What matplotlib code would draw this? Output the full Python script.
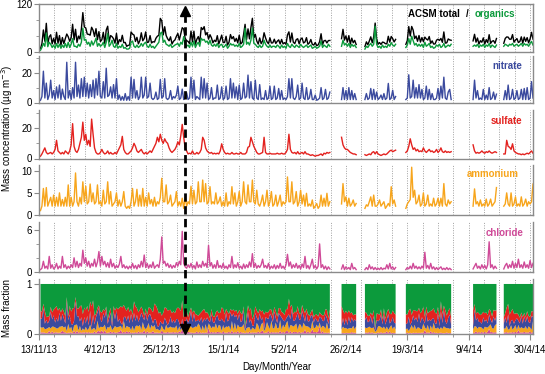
import numpy as np
import matplotlib
matplotlib.use("Agg")
import matplotlib.pyplot as plt
from matplotlib.lines import Line2D
from matplotlib.transforms import blended_transform_factory

plt.rcParams['font.family'] = ['Liberation Sans', 'DejaVu Sans']
nan = np.nan

# ACSM record, 12 h values from 13/11/13 (first value at +0.5 d), gaps = nan
start_date = np.datetime64('2013-11-13')
step_days = 0.5

tick_dates = ['2013-11-13', '2013-12-04', '2013-12-25', '2014-01-15', '2014-02-05',
              '2014-02-26', '2014-03-19', '2014-04-09', '2014-04-30']
tick_labels = ['13/11/13', '4/12/13', '25/12/13', '15/1/14', '5/2/14',
               '26/2/14', '19/3/14', '9/4/14', '30/4/14']
event_time = np.datetime64('2014-01-01T20:00')

# each row = 5 days
organics = [
    5, 12, 22, 15, 48, 14, 25, 20, 12, 18,
    10, 22, 12, 20, 10, 18, 12, 22, 12, 25,
    12, 20, 34, 15, 15, 12, 20, 15, 25, 60,
    30, 32, 20, 25, 15, 28, 18, 25, 35, 15,
    22, 15, 18, 25, 12, 25, 47, 15, 20, 30,
    15, 12, 22, 10, 15, 12, 20, 10, 12, 8,
    8, 10, 25, 28, 15, 12, 18, 12, 15, 22,
    15, 22, 25, 15, 12, 20, 12, 15, 10, 15,
    20, 25, 47, 50, 25, 30, 20, 18, 15, 20,
    12, 15, 18, 20, 22, 15, 25, 20, 39, 20,
    15, 18, 12, 25, 15, 28, 12, 20, 25, 15,
    35, 30, 32, 25, 28, 20, 30, 18, 15, 20,
    15, 22, 12, 18, 20, 12, 15, 20, 10, 15,
    22, 18, 20, 15, 18, 14, 22, 12, 15, 20,
    60, 20, 25, 18, 30, 60, 22, 20, 15, 12,
    18, 12, 15, 30, 20, 15, 12, 18, 12, 15,
    15, 12, 18, 15, 10, 18, 12, 15, 10, 22,
    15, 12, 20, 15, 12, 18, 15, 12, 20, 15,
    12, 15, 18, 12, 15, 18, 10, 12, 15, 10,
    12, 15, 28, 12, 18, 15, 12, 20, 15, nan,
    nan, nan, nan, nan, nan, nan, 15, 30, 18, 22,
    15, 22, 12, 20, 15, 18, 12, nan, nan, nan,
    nan, nan, 8, 15, 12, 18, 22, 15, 20, 65,
    20, 12, 15, 10, 18, 12, 15, 12, 20, 15,
    24, 18, 15, 20, nan, nan, nan, nan, nan, nan,
    12, 18, 34, 20, 40, 29, 18, 22, 15, 20,
    15, 20, 12, 25, 15, 18, 22, 12, 15, 10,
    12, 18, 15, 20, 12, 15, 22, 12, 15, 18,
    15, 20, nan, nan, nan, nan, nan, nan, nan, nan,
    nan, nan, nan, nan, nan, nan, 15, 18, 15, 20,
    12, 18, 15, 20, 12, 18, 15, 22, 12, 18,
    15, 12, 18, nan, nan, nan, nan, 15, 20, 18,
    15, 20, 18, 22, 15, 18, 20, 15, 18, 22,
    15, 22, 18, 20, 15, 22, 27, 18, nan, nan,
]

nitrate = [
    1.5, 4, 21, 3, 13, 2, 5, 15, 3, 8,
    2, 10.5, 3, 11.7, 2, 9, 4, 2, 27, 3,
    8, 2, 10, 3, 27, 4, 11.7, 3, 16, 4,
    17, 4, 13, 3, 12, 4, 15, 3, 16, 5,
    21, 4, 3, 14, 3, 23, 4, 5, 10.5, 3,
    12, 3, 16, 2, 5, 1.5, 4, 1.5, 6, 1.5,
    4, 1.5, 17, 3, 15.5, 3, 8, 2, 4, 17,
    3, 5, 17, 3, 4, 13, 3, 2, 3, 7,
    2, 3, 15.5, 3, 4, 16, 3, 2, 3, 8,
    2, 4, 3, 5, 11, 2, 3, 9, 2, 3,
    6.5, 2, 3, 17, 3, 15, 2, 4, 3, 2,
    17, 3, 16, 3, 13, 2, 3, 10, 2, 3,
    3, 11.7, 2, 3, 10.5, 2, 3, 11, 2, 3,
    16, 3, 13, 3, 10.5, 2, 11.7, 2, 3, 13,
    3, 4, 18.4, 3, 14, 3, 2, 15, 3, 2,
    12, 2, 3, 2, 8, 2, 3, 11, 2, 3,
    11, 2, 3, 9.4, 2, 8, 2, 3, 2, 4,
    16, 3, 16, 3, 2, 4, 11.7, 2, 3, 13,
    3, 2, 10, 2, 3, 8.8, 2, 2, 5, 1.5,
    2, 3, 10, 2, 3, 8.8, 2, 3, 7, nan,
    nan, nan, nan, nan, nan, nan, 2, 10, 2, 8,
    2, 10, 2, 8, 2, 6, 2, nan, nan, nan,
    nan, nan, 2, 6, 2, 3, 9.4, 2, 8.8, 2,
    7, 2, 3, 5, 2, 6, 2, 3, 12.8, 2,
    3, 8.2, 2, 4, nan, nan, nan, nan, nan, nan,
    2, 3, 18.6, 3, 4, 15, 3, 10, 3, 12,
    3, 8.8, 2, 3, 11, 2, 8.8, 2, 6, 2,
    2, 3, 9.4, 2, 11, 3, 17, 3, 2, 7,
    8.8, 2, nan, nan, nan, nan, nan, nan, nan, nan,
    nan, nan, nan, nan, nan, nan, 2, 15, 3, 8,
    2, 3, 2, 8.8, 2, 5, 2, 10, 2, 3,
    7, 2, 5.6, nan, nan, nan, nan, 2, 8, 2,
    11.7, 2, 3, 8.8, 2, 3, 8, 2, 3, 8.8,
    2, 9.4, 2, 10, 2, 3, 14, 3, nan, nan,
]

sulfate = [
    1.5, 3, 5, 7, 4, 3, 3.5, 4, 3, 4,
    6, 12, 5, 4, 3, 4, 3, 5, 4, 3,
    5, 9, 23, 8, 5, 4, 6, 10, 14, 24,
    12, 16, 9, 12, 8, 26, 16, 7, 4, 3,
    3, 4, 6, 4, 3, 3.5, 5, 3, 4, 3,
    3, 4, 3, 5, 7, 9, 14.6, 6, 4, 3,
    3, 4, 5, 7, 10, 8, 5, 4, 5, 6,
    4, 3, 4, 3, 4, 5, 4, 6, 8, 10,
    14, 11, 16, 12, 10, 13, 11, 10, 7, 5,
    4, 5, 6, 8, 11, 9, 15, 22.5, 14, 7,
    5, 3, 3.5, 3, 5, 3, 3, 4, 3, 4,
    6, 14, 12, 7, 5, 4, 3.5, 4, 3, 3.5,
    3, 3.5, 3, 5, 9.7, 6, 4, 3, 3.5, 3,
    3, 4, 3, 3, 3.5, 3, 3, 4, 3, 3,
    3, 4, 7.4, 8, 14, 11, 8, 6, 4, 3,
    3, 3.5, 4, 14, 4, 3, 3, 3.5, 3, 3,
    3, 3, 3.5, 3, 3, 3.5, 3, 3, 4, 6,
    16, 6, 4, 3.5, 4, 3, 4.5, 3, 3.5, 4,
    3, 4.5, 3, 3, 2.5, 2, 2.5, 2, 1.5, 2,
    2, 2.5, 3, 2, 3.5, 3, 4, 3.5, 4, nan,
    nan, nan, nan, nan, nan, nan, 14, 9, 7, 6,
    6, 5, 4, 3.5, 3, 3, 2.5, nan, nan, nan,
    nan, nan, 2.5, 2, 2.5, 3, 2.5, 4, 4.5, 3,
    4.5, 3, 2.5, 2, 2.5, 3, 2.5, 3, 4, 5,
    5.5, 4.5, 5, 5.5, nan, nan, nan, nan, nan, nan,
    4, 5, 8, 13, 9, 6, 7, 5, 6, 4.5,
    5, 4.5, 7, 5, 4, 5, 6, 4.5, 5, 4,
    4.5, 6, 4, 5, 7, 4.5, 4, 5, 4, 4.5,
    4, 4.5, nan, nan, nan, nan, nan, nan, nan, nan,
    nan, nan, nan, nan, nan, nan, 9, 5, 3.5, 4,
    3.5, 4, 5, 4, 3.5, 4.5, 4, 5, 4, 3.5,
    4, 4.5, 4, nan, nan, nan, nan, 3, 3, 12,
    8, 7.4, 6, 9.7, 5, 4, 3.5, 3, 3, 2.5,
    3, 2.5, 3, 3.5, 3, 4, 5, 3.5, nan, nan,
]

ammonium = [
    1, 2, 6, 2, 6.2, 2, 3, 4, 2, 4.5,
    2, 4, 2, 5, 2, 3.5, 2, 4, 2, 6.8,
    2, 4, 2, 3, 9.5, 3, 2, 4, 2.5, 7.5,
    3, 6.5, 2.5, 3, 7, 3, 5, 2.5, 3, 6.8,
    2.5, 3, 2, 5.6, 2.5, 3, 7.5, 2.5, 5.3, 2,
    2.5, 3, 5, 2, 3.4, 2, 3, 5.3, 2, 1.5,
    2, 1.5, 3, 6, 2, 3, 5.8, 2, 4.5, 2,
    6, 2, 4, 2, 5, 2.5, 3.5, 2, 4, 2,
    3, 2.5, 4, 8.3, 3, 3, 6.8, 2.5, 3, 4.5,
    2, 2.5, 3, 5.3, 2, 3, 2, 3.8, 1.5, 4,
    2, 3, 2.5, 6.5, 2.5, 5.6, 2.5, 3, 7.5, 3,
    3, 7.9, 3, 7.1, 2.5, 3, 6.4, 2.5, 3, 2.5,
    5, 2.5, 3, 4.1, 2, 3, 2, 5, 2, 3,
    2.5, 6.4, 2.5, 5, 2, 3, 5.3, 2, 3, 7.5,
    3, 2.5, 6.8, 3, 3, 7.9, 3, 2.5, 5.6, 2.5,
    2, 3, 4.5, 2, 3, 5.6, 2, 3, 5.3, 2,
    2.5, 4.5, 2, 3, 4.5, 2, 3, 2.5, 3, 8.6,
    3, 3, 7.5, 2.5, 3, 5.3, 2, 3, 5.6, 2.5,
    4.5, 2, 4.9, 2, 2.5, 2, 3.4, 1.5, 2, 2.6,
    1.5, 2, 4.5, 2, 3.8, 2, 4.9, 2, 3, nan,
    nan, nan, nan, nan, nan, nan, 2.5, 7.1, 3, 4.1,
    2, 3.8, 2, 2.5, 3.4, 2, 2.6, nan, nan, nan,
    nan, nan, 1.5, 2.3, 2, 3, 4.1, 2, 4.5, 2,
    2, 2.5, 3.4, 2, 2.5, 3, 1.5, 2, 2.6, 2,
    6.4, 2.5, 3.4, 2, nan, nan, nan, nan, nan, nan,
    1.5, 2.5, 3, 3.5, 10.8, 4, 5.6, 2.5, 3, 4.5,
    2, 2.5, 5, 2, 2.5, 4.5, 2, 2.5, 2, 3.8,
    2, 2.5, 3.8, 2, 3.8, 2, 7.1, 2.5, 2, 3.4,
    2.5, 3, nan, nan, nan, nan, nan, nan, nan, nan,
    nan, nan, nan, nan, nan, nan, 2, 5.9, 2.5, 3,
    2, 3.4, 2, 2.5, 2, 3.6, 2, 2.5, 3.6, 2,
    2.5, 3, 6.2, nan, nan, nan, nan, 2, 2.5, 5,
    2.5, 2, 5, 2, 2.5, 4.1, 2, 2.5, 2, 4.1,
    2, 2.5, 3.6, 2, 3, 2.5, 3, 7, nan, nan,
]

chloride = [
    0.3, 0.5, 1.5, 0.5, 0.8, 0.4, 2.2, 0.5, 1, 0.4,
    0.6, 1.2, 0.4, 0.8, 0.5, 2.2, 0.6, 1, 0.4, 0.8,
    0.5, 1, 0.6, 2, 0.7, 1.5, 0.6, 1.2, 0.8, 3.1,
    1.2, 2, 0.8, 1.5, 0.6, 1.2, 0.8, 1.8, 0.7, 1.4,
    2.9, 0.8, 2.2, 1, 1.5, 0.7, 1.3, 0.6, 1.8, 0.7,
    1.2, 0.5, 0.9, 0.6, 1.1, 2.2, 0.6, 1, 0.5, 0.8,
    0.4, 0.8, 0.5, 1.2, 0.5, 0.9, 0.4, 1, 0.6, 1.5,
    0.7, 2.4, 0.6, 1.2, 0.5, 1, 0.6, 1.4, 0.5, 0.8,
    1, 0.6, 1.8, 5, 1.2, 1.5, 0.8, 1.2, 0.6, 1,
    0.5, 0.9, 0.6, 1.3, 0.8, 1.5, 1, 5.8, 1.2, 0.7,
    0.5, 1, 0.6, 1.2, 0.5, 0.9, 0.4, 1.4, 0.6, 1,
    0.6, 1.5, 0.8, 1.2, 0.6, 3.8, 0.8, 1.3, 0.5, 1,
    0.5, 1.6, 0.6, 0.9, 0.5, 1.2, 0.5, 0.8, 0.4, 1,
    0.6, 2.2, 0.5, 1, 0.6, 1.3, 0.5, 0.8, 0.4, 1.1,
    0.5, 1, 0.6, 1.4, 0.7, 2.6, 0.6, 1.2, 0.5, 0.9,
    0.6, 1, 1.8, 0.6, 0.9, 0.5, 1.2, 0.4, 0.8, 0.5,
    1, 0.4, 0.9, 0.5, 1.2, 0.5, 0.8, 0.4, 1, 2.5,
    0.8, 1.4, 0.5, 1, 0.6, 1.2, 0.5, 0.9, 0.4, 1.1,
    0.6, 2.2, 0.5, 0.9, 0.4, 1, 1.8, 0.5, 0.9, 0.4,
    0.8, 4, 0.6, 1, 0.4, 0.8, 0.3, 0.7, 0.4, nan,
    nan, nan, nan, nan, nan, nan, 0.4, 1, 0.3, 0.7,
    0.4, 0.6, 0.3, 1.2, 0.4, 0.6, 0.3, nan, nan, nan,
    nan, nan, 0.3, 0.6, 0.3, 1, 0.4, 0.7, 0.3, 0.6,
    0.3, 0.5, 0.3, 0.6, 0.3, 0.5, 0.4, 1, 0.4, 1.2,
    0.4, 0.7, 0.3, 0.6, nan, nan, nan, nan, nan, nan,
    0.3, 0.6, 0.4, 0.8, 0.4, 1.2, 0.5, 0.8, 0.4, 0.7,
    0.4, 0.8, 0.5, 2.8, 0.5, 0.9, 0.4, 1.2, 0.4, 0.7,
    0.3, 0.6, 0.3, 0.5, 0.7, 0.3, 0.5, 0.3, 0.6, 0.3,
    0.5, 0.3, nan, nan, nan, nan, nan, nan, nan, nan,
    nan, nan, nan, nan, nan, nan, 0.4, 0.8, 1.2, 0.5,
    0.8, 0.4, 1, 0.5, 0.9, 0.4, 1, 4.3, 0.6, 1,
    0.4, 0.8, 0.5, nan, nan, nan, nan, 0.4, 0.9, 1.2,
    0.5, 1, 0.6, 1.5, 0.5, 1.2, 0.6, 1.8, 0.6, 1,
    0.5, 1.4, 0.6, 1, 0.5, 1.6, 0.6, 1.2, nan, nan,
]

c_org = '#0c9a3c'
c_no3 = '#3b4a9e'
c_so4 = '#e3221f'
c_nh4 = '#f7a51c'
c_chl = '#cf4a98'
c_axis = '#8a8a8a'

org = np.array(organics, float)
no3 = np.array(nitrate, float)
so4 = np.array(sulfate, float)
nh4 = np.array(ammonium, float)
chl = np.array(chloride, float)
total = org + no3 + so4 + nh4 + chl
days = step_days * np.arange(1, len(org) + 1)

major = (np.array(tick_dates, dtype='datetime64[D]') - start_date).astype(float)
minor = np.arange(major[0], 169.5, (major[1] - major[0]) / 4)
event_day = (event_time - start_date.astype('datetime64[m]')).astype(float) / 1440.0

W, H = 545, 374
fig = plt.figure(figsize=(W / 100, H / 100), dpi=100)
left, right = 39, 533
panels = [(4, 52.3), (56.3, 102.5), (110, 158.5), (165, 215), (222, 271.7), (279, 333.7)]
ylims = [120, 31, 32, 11.3, 7.15, 1.1]
yticks = [[0, 120], [0, 20], [0, 20], [0, 5, 10], [0, 6], [0, 1]]
yminor = [[40, 80], [10, 30], [10, 30], [], [2, 4], []]

axes = []
for i, (top, bot) in enumerate(panels):
    ax = fig.add_axes([left / W, 1 - bot / H, (right - left) / W, (bot - top) / H])
    ax.set_xlim(0, 169)
    ax.set_ylim(0, ylims[i])
    ax.set_xticks(major)
    ax.set_xticks(minor, minor=True)
    ax.grid(axis='x', which='both', color='#a0a0a0', linestyle=(0, (1, 1.5)), lw=0.7)
    ax.set_axisbelow(True)
    ax.set_yticks(yticks[i])
    ax.set_yticks(yminor[i], minor=True)
    ax.tick_params(axis='y', which='both', direction='out', color=c_axis, labelsize=7, pad=1.5)
    ax.tick_params(axis='y', which='major', length=3.5)
    ax.tick_params(axis='y', which='minor', length=2)
    for s in ax.spines.values():
        s.set_color(c_axis)
        s.set_linewidth(1.0)
    if i > 0:
        ax.spines['top'].set_visible(False)
    if i < 5:
        ax.tick_params(axis='x', which='both', length=0, labelbottom=False)
    axes.append(ax)

lw = 1.0
axes[0].plot(days, total, color='k', lw=lw)
axes[0].plot(days, org, color=c_org, lw=lw)
axes[1].plot(days, no3, color=c_no3, lw=lw)
axes[2].plot(days, so4, color=c_so4, lw=lw)
axes[3].plot(days, nh4, color=c_nh4, lw=lw)
axes[4].plot(days, chl, color=c_chl, lw=lw)

# mass fraction, stacked from chloride (bottom) to organics (top)
layers = [chl, nh4, no3, so4, org]
colors = [c_chl, c_nh4, c_no3, c_so4, c_org]
base = np.zeros_like(total)
for arr, col in zip(layers, colors):
    frac = arr / total
    axes[5].fill_between(days, base, base + frac, color=col, lw=0, zorder=2)
    base = base + frac

axes[5].set_xticklabels(tick_labels)
axes[5].tick_params(axis='x', which='both', direction='out', color=c_axis, labelsize=7, pad=4)
axes[5].tick_params(axis='x', which='major', length=4)
axes[5].tick_params(axis='x', which='minor', length=2.5)

# panel labels
fs = 7
axes[0].text(0.852, 0.79, 'ACSM total', transform=axes[0].transAxes, ha='right', va='center',
             fontsize=fs, fontweight='bold', color='k')
axes[0].text(0.866, 0.79, '/', transform=axes[0].transAxes, ha='center', va='center',
             fontsize=fs, fontweight='bold', color='k')
axes[0].text(0.964, 0.79, 'organics', transform=axes[0].transAxes, ha='right', va='center',
             fontsize=fs, fontweight='bold', color=c_org)
axes[1].text(0.978, 0.80, 'nitrate', transform=axes[1].transAxes, ha='right', va='center',
             fontsize=fs, fontweight='bold', color=c_no3)
axes[2].text(0.978, 0.78, 'sulfate', transform=axes[2].transAxes, ha='right', va='center',
             fontsize=fs, fontweight='bold', color=c_so4)
axes[3].text(0.972, 0.82, 'ammonium', transform=axes[3].transAxes, ha='right', va='center',
             fontsize=fs, fontweight='bold', color=c_nh4)
axes[4].text(0.980, 0.785, 'chloride', transform=axes[4].transAxes, ha='right', va='center',
             fontsize=fs, fontweight='bold', color=c_chl)

fig.text(7 / W, 1 - 128 / H, 'Mass concentration (µg m$^{-3}$)', rotation=90,
         ha='center', va='center', fontsize=7)
fig.text(7 / W, 1 - 308 / H, 'Mass fraction', rotation=90, ha='center', va='center', fontsize=7)
fig.text(277 / W, 1 - 367 / H, 'Day/Month/Year', ha='center', va='center', fontsize=7)

# dashed double arrow marking the event
tr = blended_transform_factory(axes[0].transData, fig.transFigure)
fig.add_artist(Line2D([event_day, event_day], [1 - 14 / H, 1 - 324 / H], transform=tr,
                      color='k', lw=2, linestyle=(0, (3, 1.6)), zorder=10))
fig.add_artist(Line2D([event_day], [1 - 10.5 / H], transform=tr, marker='^', ms=7,
                      color='k', lw=0, zorder=11))
fig.add_artist(Line2D([event_day], [1 - 328.5 / H], transform=tr, marker='v', ms=7,
                      color='k', lw=0, zorder=11))

fig.savefig('out.png', dpi=100)
